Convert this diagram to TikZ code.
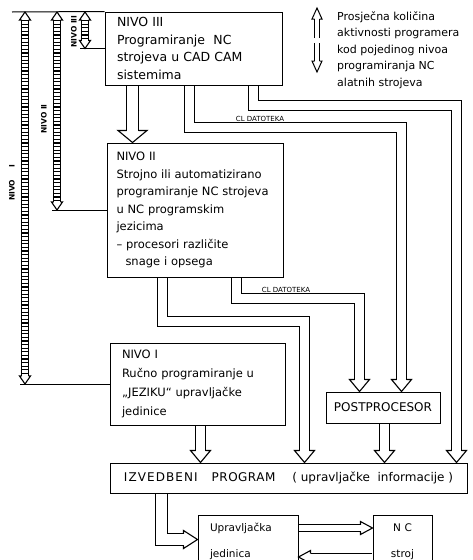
\documentclass[tikz,border=0pt]{standalone}
\usepackage{fontspec}
\setmainfont{DejaVu Sans}
\usetikzlibrary{calc}
\tikzset{
  box/.style={draw, line width=1pt, inner sep=0pt, align=left},
  thinline/.style={draw, line width=1pt},
  shaftA/.style={draw, line width=1.1pt, double=white, double distance=10.9pt, line join=miter},
  shaftB/.style={draw, line width=1.1pt, double=white, double distance=8.9pt, line join=miter},
  shaftS/.style={draw, line width=1.1pt, double=white, double distance=5.9pt, line join=miter},
  lshaft/.style={draw, line width=1pt, double=white, double distance=4pt},
  ladder/.style={draw, line width=1.1pt, double=white, double distance=5.9pt},
  ladderticks/.style={draw, line width=5.9pt, dash pattern=on 1.2pt off 2.4pt},
  lbl/.style={inner sep=0pt, font=\fontsize{7.5}{8}\selectfont\bfseries},
  clbl/.style={inner sep=0.5pt, font=\fontsize{7}{8}\selectfont},
  pics/hhead/.style n args={3}{code={\draw[line width=1.1pt, line join=miter] (-#1,-#3) -- (-#2,-#3) -- (0,0) -- (#2,-#3) -- (#1,-#3);}},
  pics/lhead/.style n args={3}{code={\draw[line width=1pt, line join=miter] (-#1,-#3) -- (-#2,-#3) -- (0,0) -- (#2,-#3) -- (#1,-#3);}},
}
\begin{document}
\begin{tikzpicture}[x=1pt,y=-1pt]
\useasboundingbox (0,0) rectangle (473,560);
\clip (0,0) rectangle (473,560);

% boxes
\node[box, minimum width=177pt, minimum height=73pt, text width=153pt,
      font=\fontsize{12.5}{17.5}\selectfont] (n3) at (193.5,48.5)
  {NIVO III\\Programiranje\ \ NC\\strojeva u CAD CAM\\sistemima};
\node[box, minimum width=176pt, minimum height=134pt, text width=157pt,
      font=\fontsize{11.5}{17.5}\selectfont] (n2) at (195,210)
  {NIVO II\\Strojno ili automatizirano\\programiranje NC strojeva\\u NC programskim\\jezicima\\– procesori različite\\\hspace*{9pt}snage i opsega};
\node[box, minimum width=175pt, minimum height=82pt, text width=151pt,
      font=\fontsize{11.5}{19}\selectfont] (n1) at (197.5,384)
  {NIVO I\\Ručno programiranje u\\„JEZIKU“ upravljačke\\jedinice};
\node[box, align=center, minimum width=114pt, minimum height=31pt,
      font=\fontsize{12}{14}\selectfont] (post) at (383,407.5) {POSTPROCESOR};
\node[box, minimum width=357pt, minimum height=30pt,
      font=\fontsize{12}{14}\selectfont] (izv) at (288.5,478)
  {{\addfontfeature{LetterSpace=9}IZVEDBENI}\hspace{14pt}{\addfontfeature{LetterSpace=4}PROGRAM}\hspace{17pt}( upravljačke\ \ informacije )};
\node[box, minimum width=100pt, minimum height=53pt, text width=76pt,
      font=\fontsize{10.5}{26}\selectfont] (upr) at (248,541.5) {Upravljačka\\jedinica};
\node[box, align=center, minimum width=59pt, minimum height=53pt,
      font=\fontsize{10.5}{26}\selectfont] (nc) at (402.5,541.5) {N\,\,C\\stroj};

% legend
\coordinate (lg1) at (317,8);
\coordinate (lg2) at (317,38);
\coordinate (lg3) at (317,43);
\coordinate (lg4) at (317,72);
\draw[lshaft] (lg2) -- ($(lg1)+(0,11)$);
\pic[rotate=180] at (lg1) {lhead={2.5}{5}{11}};
\draw[lshaft] (lg3) -- ($(lg4)+(0,-11)$);
\pic at (lg4) {lhead={2.5}{5}{11}};
\node[anchor=north west, inner sep=0pt, align=left,
      font=\fontsize{11}{16.5}\selectfont] (leg) at (337,11)
  {Prosječna količina\\aktivnosti programera\\kod pojedinog nivoa\\programiranja NC\\alatnih strojeva};

% left level arrows
\coordinate (e0) at (12,12);
\coordinate (t1) at (25,12);  \coordinate (b1) at (25,384);
\coordinate (t2) at (57,12);  \coordinate (b2) at (57,210);
\coordinate (t3) at (85,12);  \coordinate (b3) at (85,48.5);
\coordinate (e1) at (20,384);
\coordinate (e2) at (52,210);
\coordinate (e3) at (80,48.5);
\draw[thinline] (e0) -- (n3.north west);
\draw[thinline] (e3) -- (n3.west);
\draw[thinline] (e2) -- (n2.west);
\draw[thinline] (e1) -- (n1.west);
\foreach \a/\b in {t1/b1, t2/b2, t3/b3}{
  \draw[ladder] ($(\a)+(0,8)$) -- ($(\b)+(0,-8)$);
  \draw[ladderticks] ($(\a)+(0,8)$) -- ($(\b)+(0,-8)$);
  \pic[rotate=180] at (\a) {hhead={3.5}{5.5}{8}};
  \pic at (\b) {hhead={3.5}{5.5}{8}};
}
\node[lbl, rotate=90] (lab3) at (74,31.5) {NIVO III};
\node[lbl, rotate=90] (lab2) at (44,119) {NIVO II};
\node[lbl, rotate=90] (lab1) at (12,183) {NIVO\hspace{12pt}I};

% A: NIVO III -> NIVO II
\coordinate (cA) at (132.5,0);
\draw[shaftA] ($(n3.south -| cA)+(0,0.5)$) -- ($(n2.north -| cA)+(0,-12)$);
\pic at (n2.north -| cA) {hhead={6}{14.5}{12}};

% B: NIVO III -> POSTPROCESOR (CL DATOTEKA)
\coordinate (cB1) at (189.5,127.5);
\coordinate (cB2) at (401.5,127.5);
\draw[shaftB] ($(n3.south -| cB1)+(0,0.5)$) -- (cB1) -- (cB2) -- ($(post.north -| cB2)+(0,-12)$);
\pic at (post.north -| cB2) {hhead={5}{10}{12}};
\node[clbl, anchor=base] (clA) at (260,121) {CL DATOTEKA};

% C: NIVO III -> IZVEDBENI PROGRAM
\coordinate (cC1) at (253.5,105.5);
\coordinate (cC2) at (456.5,105.5);
\draw[shaftB] ($(n3.south -| cC1)+(0,0.5)$) -- (cC1) -- (cC2) -- ($(izv.north -| cC2)+(0,-12)$);
\pic at (izv.north -| cC2) {hhead={5}{10}{12}};

% D: NIVO II -> POSTPROCESOR (CL DATOTEKA)
\coordinate (cD1) at (236.5,298.5);
\coordinate (cD2) at (359.5,298.5);
\draw[shaftB] ($(n2.south -| cD1)+(0,0.5)$) -- (cD1) -- (cD2) -- ($(post.north -| cD2)+(0,-12)$);
\pic at (post.north -| cD2) {hhead={5}{10}{12}};
\node[clbl, anchor=base] (clB) at (286,292.5) {CL DATOTEKA};

% E: NIVO II -> IZVEDBENI PROGRAM
\coordinate (cE1) at (162.5,321.5);
\coordinate (cE2) at (304.5,321.5);
\draw[shaftB] ($(n2.south -| cE1)+(0,0.5)$) -- (cE1) -- (cE2) -- ($(izv.north -| cE2)+(0,-12)$);
\pic at (izv.north -| cE2) {hhead={5}{10}{12}};

% F: NIVO I -> IZVEDBENI PROGRAM
\coordinate (cF) at (200.5,0);
\draw[shaftB] ($(n1.south -| cF)+(0,0.5)$) -- ($(izv.north -| cF)+(0,-12)$);
\pic at (izv.north -| cF) {hhead={5}{10}{12}};

% G: POSTPROCESOR -> IZVEDBENI PROGRAM
\coordinate (cG) at (384.5,0);
\draw[shaftB] ($(post.south -| cG)+(0,0.5)$) -- ($(izv.north -| cG)+(0,-12)$);
\pic at (izv.north -| cG) {hhead={5}{10}{12}};

% H: IZVEDBENI PROGRAM -> Upravljacka jedinica
\coordinate (cH) at (161.5,539.5);
\draw[shaftA] ($(izv.south -| cH)+(0,0.5)$) -- (cH) -- ($(upr.west |- cH)+(-14,0)$);
\pic[rotate=90] at (upr.west |- cH) {hhead={6}{9}{14}};

% I / J: Upravljacka jedinica <-> NC stroj
\coordinate (cI) at (0,528);
\coordinate (cJ) at (0,557);
\draw[shaftS] ($(upr.east |- cI)+(0.5,0)$) -- ($(nc.west |- cI)+(-12,0)$);
\pic[rotate=90] at (nc.west |- cI) {hhead={3.5}{6.5}{12}};
\draw[shaftS] ($(nc.west |- cJ)+(-0.5,0)$) -- ($(upr.east |- cJ)+(12,0)$);
\pic[rotate=-90] at (upr.east |- cJ) {hhead={3.5}{6.5}{12}};
\end{tikzpicture}
\end{document}
